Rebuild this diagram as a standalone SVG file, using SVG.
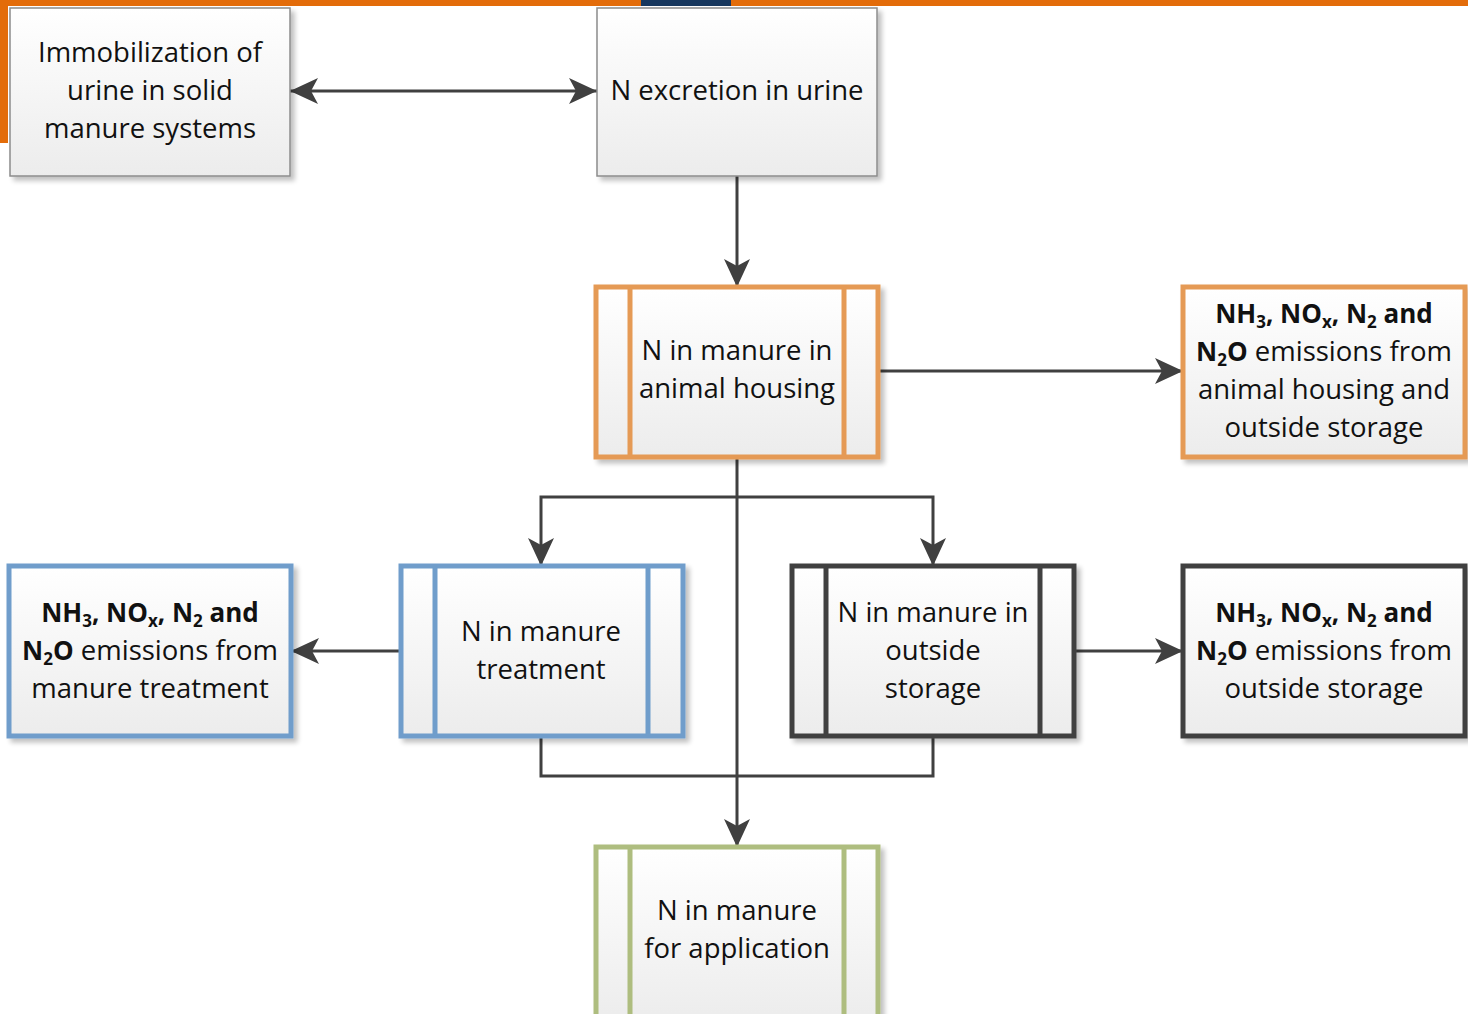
<svg xmlns="http://www.w3.org/2000/svg" width="1468" height="1014" viewBox="0 0 1468 1014">
  <defs>
    <linearGradient id="fillGrad" x1="0" y1="0" x2="0" y2="1">
      <stop offset="0" stop-color="#ffffff"/>
      <stop offset="1" stop-color="#ececec"/>
    </linearGradient>
    <filter id="shadow" x="-10%" y="-10%" width="130%" height="130%">
      <feGaussianBlur in="SourceAlpha" stdDeviation="2.5"/>
      <feOffset dx="4" dy="4" result="b"/>
      <feComponentTransfer><feFuncA type="linear" slope="0.25"/></feComponentTransfer>
      <feMerge><feMergeNode/><feMergeNode in="SourceGraphic"/></feMerge>
    </filter>
    <marker id="arrow" viewBox="0 0 28 26" refX="28" refY="13" markerWidth="28" markerHeight="26" markerUnits="userSpaceOnUse" orient="auto-start-reverse">
      <path d="M0,0 L28,13 L0,26 L7,13 Z" fill="#404040"/>
    </marker>
    <style>
      .box { fill: url(#fillGrad); filter: url(#shadow); }
      .plain { stroke: #8c8c8c; stroke-width: 1.5; }
      .orange { stroke: #e59a55; stroke-width: 5; }
      .blue { stroke: #6f9dcb; stroke-width: 5; }
      .dark { stroke: #404040; stroke-width: 5; }
      .green { stroke: #aebd7f; stroke-width: 5; }
      .bar { fill: none; stroke-width: 5; }
      .conn { fill: none; stroke: #404040; stroke-width: 3; }
      text { font-family: "Open Sans", "Noto Sans", sans-serif; font-size: 27.5px; fill: #111111; text-anchor: middle; }
      .b { font-weight: bold; font-size: 26px; }
      .s { font-size: 17px; }
    </style>
  </defs>

  <!-- page header band -->
  <rect x="0" y="0" width="1468" height="6" fill="#e36c0a"/>
  <rect x="641" y="0" width="90" height="6" fill="#17375e"/>
  <rect x="0" y="0" width="8" height="143" fill="#e36c0a"/>

  <!-- connectors -->
  <g id="connectors">
    <line class="conn" x1="290" y1="91" x2="597" y2="91" marker-start="url(#arrow)" marker-end="url(#arrow)"/>
    <line class="conn" x1="737" y1="176" x2="737" y2="287" marker-end="url(#arrow)"/>
    <line class="conn" x1="878" y1="371" x2="1183" y2="371" marker-end="url(#arrow)"/>
    <line class="conn" x1="737" y1="457" x2="737" y2="847" marker-end="url(#arrow)"/>
    <path class="conn" d="M737,497 H541 V566" marker-end="url(#arrow)"/>
    <path class="conn" d="M737,497 H933 V566" marker-end="url(#arrow)"/>
    <line class="conn" x1="401" y1="651" x2="291" y2="651" marker-end="url(#arrow)"/>
    <line class="conn" x1="1074" y1="651" x2="1183" y2="651" marker-end="url(#arrow)"/>
    <path class="conn" d="M541,736 V776 H933 V736"/>
  </g>

  <g id="immobilization">
    <rect class="box plain" x="10" y="8" width="280" height="168"/>
    <text x="150" y="62">Immobilization of</text>
    <text x="150" y="100">urine in solid</text>
    <text x="150" y="138">manure systems</text>
  </g>

  <g id="excretion">
    <rect class="box plain" x="597" y="8" width="280" height="168"/>
    <text x="737" y="100">N excretion in urine</text>
  </g>

  <g id="housing">
    <rect class="box orange" x="596" y="287" width="282" height="170"/>
    <line class="bar orange" x1="630" y1="287" x2="630" y2="457"/>
    <line class="bar orange" x1="844" y1="287" x2="844" y2="457"/>
    <text x="737" y="360">N in manure in</text>
    <text x="737" y="398">animal housing</text>
  </g>

  <g id="emissions-housing">
    <rect class="box orange" x="1183" y="287" width="282" height="170"/>
    <text x="1324" y="323"><tspan class="b">NH<tspan class="s" dy="5">3</tspan><tspan dy="-5">, NO</tspan><tspan class="s" dy="5">x</tspan><tspan dy="-5">, N</tspan><tspan class="s" dy="5">2</tspan><tspan dy="-5"> and</tspan></tspan></text>
    <text x="1324" y="361"><tspan class="b">N<tspan class="s" dy="5">2</tspan><tspan dy="-5">O</tspan></tspan> emissions from</text>
    <text x="1324" y="399">animal housing and</text>
    <text x="1324" y="437">outside storage</text>
  </g>

  <g id="treatment">
    <rect class="box blue" x="401" y="566" width="282" height="170"/>
    <line class="bar blue" x1="435" y1="566" x2="435" y2="736"/>
    <line class="bar blue" x1="648" y1="566" x2="648" y2="736"/>
    <text x="541" y="641">N in manure</text>
    <text x="541" y="679">treatment</text>
  </g>

  <g id="emissions-treatment">
    <rect class="box blue" x="9" y="566" width="282" height="170"/>
    <text x="150" y="622"><tspan class="b">NH<tspan class="s" dy="5">3</tspan><tspan dy="-5">, NO</tspan><tspan class="s" dy="5">x</tspan><tspan dy="-5">, N</tspan><tspan class="s" dy="5">2</tspan><tspan dy="-5"> and</tspan></tspan></text>
    <text x="150" y="660"><tspan class="b">N<tspan class="s" dy="5">2</tspan><tspan dy="-5">O</tspan></tspan> emissions from</text>
    <text x="150" y="698">manure treatment</text>
  </g>

  <g id="storage">
    <rect class="box dark" x="792" y="566" width="282" height="170"/>
    <line class="bar dark" x1="826" y1="566" x2="826" y2="736"/>
    <line class="bar dark" x1="1040" y1="566" x2="1040" y2="736"/>
    <text x="933" y="622">N in manure in</text>
    <text x="933" y="660">outside</text>
    <text x="933" y="698">storage</text>
  </g>

  <g id="emissions-storage">
    <rect class="box dark" x="1183" y="566" width="282" height="170"/>
    <text x="1324" y="622"><tspan class="b">NH<tspan class="s" dy="5">3</tspan><tspan dy="-5">, NO</tspan><tspan class="s" dy="5">x</tspan><tspan dy="-5">, N</tspan><tspan class="s" dy="5">2</tspan><tspan dy="-5"> and</tspan></tspan></text>
    <text x="1324" y="660"><tspan class="b">N<tspan class="s" dy="5">2</tspan><tspan dy="-5">O</tspan></tspan> emissions from</text>
    <text x="1324" y="698">outside storage</text>
  </g>

  <g id="application">
    <rect class="box green" x="596" y="847" width="282" height="175"/>
    <line class="bar green" x1="630" y1="847" x2="630" y2="1014"/>
    <line class="bar green" x1="844" y1="847" x2="844" y2="1014"/>
    <text x="737" y="920">N in manure</text>
    <text x="737" y="958">for application</text>
  </g>
</svg>
